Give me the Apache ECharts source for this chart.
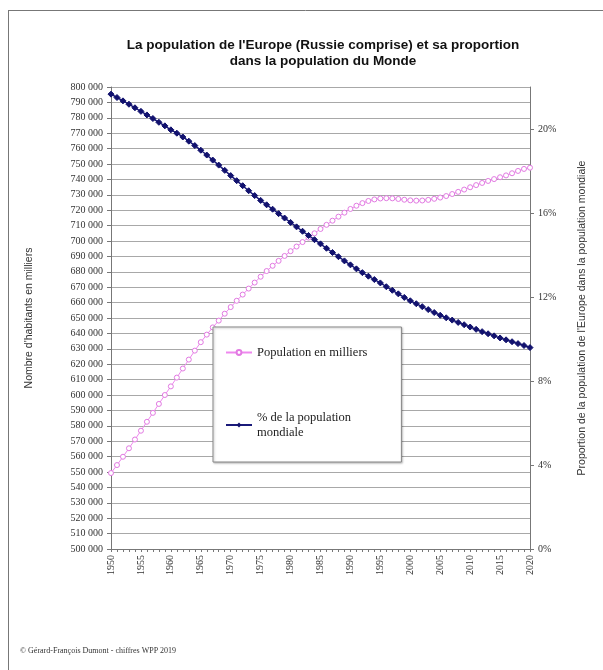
<!DOCTYPE html>
<html>
<head>
<meta charset="utf-8">
<script src="https://cdn.jsdelivr.net/npm/echarts@6/dist/echarts.min.js"></script>
<style>html,body{margin:0;padding:0;background:#fff}#c{width:603px;height:670px}</style>
</head>
<body>
<div id="c"></div>
<script>
const years = [];
for (let y = 1950; y <= 2020; y++) years.push(String(y));

const popName = 'Population en milliers';
const shareName = '% de la population mondiale';

// Population of Europe (thousands)
const population = [
  549329, 554500, 559900, 565400, 571100, 576800, 582600, 588400, 594200, 600000,
  605600, 611300, 617200, 623000, 628800, 634300, 639200, 643900, 648300, 652800,
  657100, 661200, 665200, 669100, 673000, 676800, 680500, 683900, 687100, 690300,
  693400, 696400, 699300, 702200, 705000, 707800, 710500, 713200, 715800, 718400,
  720800, 722900, 724600, 726000, 727000, 727600, 727800, 727700, 727300, 726800,
  726400, 726200, 726300, 726700, 727400, 728200, 729200, 730500, 731900, 733400,
  734900, 736300, 737700, 739000, 740200, 741400, 742600, 744000, 745500, 746800,
  747600
];

// Share of world population (%)
const share = [
  21.66, 21.50, 21.34, 21.18, 21.01, 20.84, 20.67, 20.50, 20.32, 20.15,
  19.96, 19.80, 19.62, 19.42, 19.21, 18.99, 18.76, 18.52, 18.28, 18.03,
  17.78, 17.54, 17.30, 17.06, 16.83, 16.60, 16.39, 16.18, 15.97, 15.76,
  15.55, 15.34, 15.13, 14.93, 14.73, 14.53, 14.32, 14.12, 13.92, 13.72,
  13.53, 13.34, 13.16, 12.99, 12.83, 12.67, 12.49, 12.32, 12.15, 11.98,
  11.82, 11.68, 11.54, 11.40, 11.26, 11.13, 11.01, 10.90, 10.79, 10.68,
  10.57, 10.46, 10.35, 10.25, 10.15, 10.05, 9.96, 9.87, 9.78, 9.69,
  9.59
];

const leftAxisName = "Nombre d'habitants en milliers";
const rightAxisName = "Proportion de la population de l'Europe dans la population mondiale";
const titleText = "La population de l'Europe (Russie comprise) et sa proportion\ndans la population du Monde";
const footerText = '© Gérard-François Dumont - chiffres WPP 2019';

const serif = '"Liberation Serif", "Times New Roman", serif';
const sans = '"Liberation Sans", Arial, sans-serif';

const chart = echarts.init(document.getElementById('c'), null, {renderer: 'canvas'});

function fmtThousands(v) {
  return String(v).replace(/\B(?=(\d{3})+(?!\d))/g, ' ');
}

chart.setOption({
  animation: false,
  backgroundColor: '#fff',
  title: [
    {
      text: titleText,
      left: 318,
      top: 32,
      textAlign: 'center',
      textStyle: {fontFamily: sans, fontWeight: 'bold', fontSize: 13.5, color: '#111', lineHeight: 16}
    },
    {
      text: footerText,
      left: 15,
      top: 642,
      textStyle: {fontFamily: serif, fontWeight: 'normal', fontSize: 8, color: '#333'}
    }
  ],
  graphic: [
    {type: 'line', shape: {x1: 8.5, y1: 10, x2: 8.5, y2: 670}, style: {stroke: '#777', lineWidth: 1}},
    {type: 'line', shape: {x1: 8, y1: 10.5, x2: 603, y2: 10.5}, style: {stroke: '#777', lineWidth: 1}}
  ],
  legend: {
    orient: 'vertical',
    left: 213,
    top: 327,
    padding: [18, 34, 22, 12],
    itemGap: 50,
    itemWidth: 26,
    itemHeight: 6,
    backgroundColor: '#fff',
    borderColor: '#888',
    borderWidth: 1,
    shadowColor: 'rgba(0,0,0,0.25)',
    shadowOffsetX: 1,
    shadowOffsetY: 1,
    shadowBlur: 2,
    formatter: function (name) {
      return name === shareName ? '% de la population\nmondiale' : name;
    },
    textStyle: {fontFamily: serif, fontSize: 12.5, color: '#222', lineHeight: 15},
    data: [popName, shareName]
  },
  grid: {left: 111, right: 73, top: 87, bottom: 121, containLabel: false},
  xAxis: {
    type: 'category',
    data: years,
    boundaryGap: false,
    axisLine: {lineStyle: {color: '#777'}},
    axisTick: {show: true, interval: 0, length: 3, lineStyle: {color: '#777'}},
    axisLabel: {
      interval: 4,
      rotate: 90,
      fontFamily: serif,
      fontSize: 10,
      color: '#333',
      margin: 6
    },
    splitLine: {show: false}
  },
  yAxis: [
    {
      type: 'value',
      min: 500000,
      max: 800000,
      interval: 10000,
      name: leftAxisName,
      nameLocation: 'middle',
      nameRotate: 90,
      nameGap: 76,
      nameTextStyle: {fontFamily: sans, fontSize: 10.5, color: '#333'},
      axisLine: {show: true, lineStyle: {color: '#777'}},
      axisTick: {show: true, length: 4, lineStyle: {color: '#777'}},
      axisLabel: {
        fontFamily: serif,
        fontSize: 10,
        color: '#333',
        margin: 8,
        formatter: fmtThousands
      },
      splitLine: {show: true, lineStyle: {color: '#a8a8a8', width: 1}}
    },
    {
      type: 'value',
      min: 0,
      max: 22,
      interval: 4,
      position: 'right',
      name: rightAxisName,
      nameLocation: 'middle',
      nameRotate: 90,
      nameGap: 47,
      nameTextStyle: {fontFamily: sans, fontSize: 10.5, color: '#333'},
      axisLine: {show: true, lineStyle: {color: '#777'}},
      axisTick: {show: true, length: 4, lineStyle: {color: '#777'}},
      axisLabel: {
        fontFamily: serif,
        fontSize: 10,
        color: '#333',
        margin: 8,
        showMaxLabel: false,
        formatter: '{value}%'
      },
      splitLine: {show: false}
    }
  ],
  series: [
    {
      name: popName,
      type: 'line',
      yAxisIndex: 0,
      data: population,
      symbol: 'circle',
      symbolSize: 5,
      showAllSymbol: true,
      lineStyle: {color: '#ee88ee', width: 1},
      itemStyle: {color: '#fff', borderColor: '#e27ae2', borderWidth: 1},
      z: 3
    },
    {
      name: shareName,
      type: 'line',
      yAxisIndex: 1,
      data: share,
      symbol: 'diamond',
      symbolSize: 6,
      showAllSymbol: true,
      lineStyle: {color: '#1a1a7a', width: 1.5},
      itemStyle: {color: '#12126e', borderColor: '#12126e'},
      z: 4
    }
  ]
});
</script>
</body>
</html>
